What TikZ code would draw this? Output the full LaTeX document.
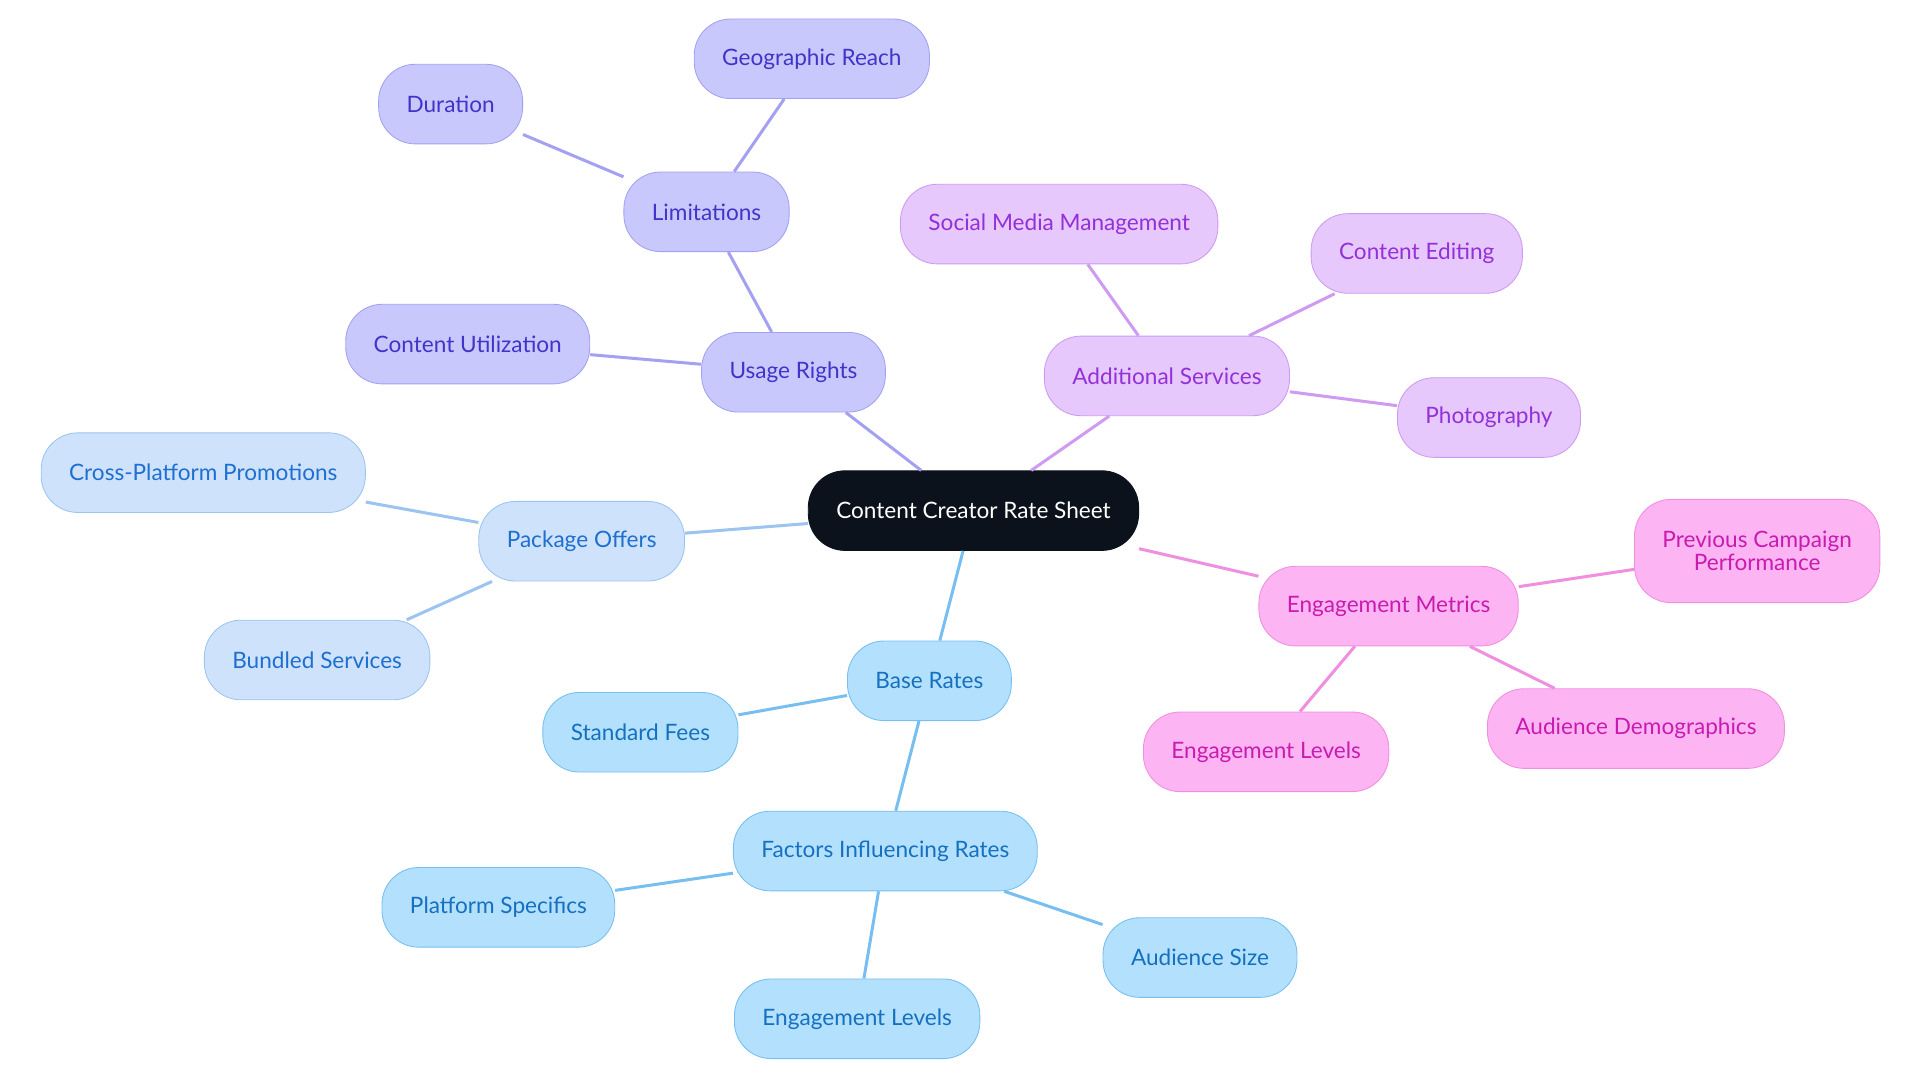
\documentclass[tikz,border=0pt]{standalone}
\usepackage{fontspec}
\setmainfont{Lato}
\definecolor{rootfill}{HTML}{0B121B}
\definecolor{violetfill}{HTML}{C9C8FC}
\definecolor{violetline}{HTML}{A4A1F2}
\definecolor{violettext}{HTML}{3F35C8}
\definecolor{purplefill}{HTML}{E6C8FC}
\definecolor{purpleline}{HTML}{CF9AF2}
\definecolor{purpletext}{HTML}{9330D8}
\definecolor{pinkfill}{HTML}{FDB4F2}
\definecolor{pinkline}{HTML}{F08EE0}
\definecolor{pinktext}{HTML}{C81BB0}
\definecolor{palefill}{HTML}{CFE2FB}
\definecolor{paleline}{HTML}{9CC4F0}
\definecolor{paletext}{HTML}{1D6FD0}
\definecolor{bluefill}{HTML}{B3E0FD}
\definecolor{blueline}{HTML}{76BFF0}
\definecolor{bluetext}{HTML}{1670C0}
\tikzset{
    topic/.style={rectangle, rounded corners=17pt, minimum height=37pt,
        inner xsep=13pt, font=\fontsize{10.5pt}{11pt}\selectfont, align=center},
    rootnode/.style={topic, fill=rootfill, text=white, draw=rootfill},
    violet/.style={topic, fill=violetfill, draw=violetline, text=violettext},
    purple/.style={topic, fill=purplefill, draw=purpleline, text=purpletext},
    pink/.style={topic, fill=pinkfill, draw=pinkline, text=pinktext},
    pale/.style={topic, fill=palefill, draw=paleline, text=paletext},
    blue/.style={topic, fill=bluefill, draw=blueline, text=bluetext},
    link/.style={line width=1.4pt}
}
\begin{document}
\begin{tikzpicture}[x=0.02cm, y=-0.02cm]
\useasboundingbox (0,0) rectangle (1568,884);
% centre
\node[rootnode] (root) at (795,417) {Content Creator Rate Sheet};
% usage rights branch
\node[violet] (usage) at (648,304) {Usage Rights};
\node[violet] (limits) at (577,173) {Limitations};
\node[violet] (duration) at (368,85) {Duration};
\node[violet] (geo) at (663,48) {Geographic Reach};
\node[violet] (util) at (382,281) {Content Utilization};
% additional services branch
\node[purple] (extra) at (953,307) {Additional Services};
\node[purple] (social) at (865,183) {Social Media Management};
\node[purple] (editing) at (1157,207) {Content Editing};
\node[purple] (photo) at (1216,341) {Photography};
% engagement branch
\node[pink] (metrics) at (1134,495) {Engagement Metrics};
\node[pink, minimum height=48pt] (previous) at (1435,450) {Previous Campaign\\Performance};
\node[pink] (demo) at (1336,595) {Audience Demographics};
\node[pink] (englevels) at (1034,614) {Engagement Levels};
% package branch
\node[pale] (package) at (475,442) {Package Offers};
\node[pale] (cross) at (166,386) {Cross-Platform Promotions};
\node[pale] (bundled) at (259,539) {Bundled Services};
% base rates branch
\node[blue] (base) at (759,556) {Base Rates};
\node[blue] (fees) at (523,598) {Standard Fees};
\node[blue] (factors) at (723,695) {Factors Influencing Rates};
\node[blue] (platform) at (407,741) {Platform Specifics};
\node[blue] (levels) at (700,832) {Engagement Levels};
\node[blue] (size) at (980,782) {Audience Size};
% links
\draw[link, violetline] (root) -- (usage);
\draw[link, violetline] (usage) -- (limits);
\draw[link, violetline] (usage) -- (util);
\draw[link, violetline] (limits) -- (duration);
\draw[link, violetline] (limits) -- (geo);
\draw[link, purpleline] (root) -- (extra);
\draw[link, purpleline] (extra) -- (social);
\draw[link, purpleline] (extra) -- (editing);
\draw[link, purpleline] (extra) -- (photo);
\draw[link, pinkline] (root) -- (metrics);
\draw[link, pinkline] (metrics) -- (previous);
\draw[link, pinkline] (metrics) -- (demo);
\draw[link, pinkline] (metrics) -- (englevels);
\draw[link, paleline] (root) -- (package);
\draw[link, paleline] (package) -- (cross);
\draw[link, paleline] (package) -- (bundled);
\draw[link, blueline] (root) -- (base);
\draw[link, blueline] (base) -- (fees);
\draw[link, blueline] (base) -- (factors);
\draw[link, blueline] (factors) -- (platform);
\draw[link, blueline] (factors) -- (levels);
\draw[link, blueline] (factors) -- (size);
\end{tikzpicture}
\end{document}
